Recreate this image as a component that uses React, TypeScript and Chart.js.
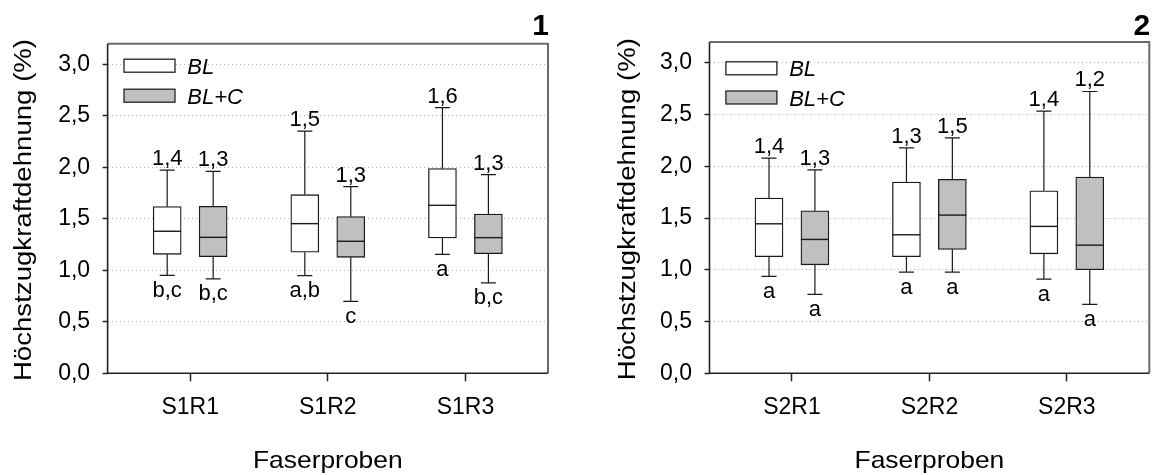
import React, { useEffect, useRef } from 'react';
import { Chart, registerables } from 'chart.js';

Chart.register(...registerables);

const FONT = '"Liberation Sans", Arial, Helvetica, sans-serif';

// ---------- data ----------
const seriesNames = ['BL', 'BL+C'];
const yTitle = 'Höchstzugkraftdehnung (%)';
const xTitle = 'Faserproben';

// Panel 1
const categories1 = ['S1R1', 'S1R2', 'S1R3'];
const bl1Min = [0.951, 0.948, 1.155];
const bl1Q1 = [1.155, 1.175, 1.314];
const bl1Median = [1.379, 1.453, 1.631];
const bl1Q3 = [1.618, 1.734, 1.987];
const bl1Max = [1.973, 2.352, 2.579];
const blc1Min = [0.916, 0.699, 0.877];
const blc1Q1 = [1.132, 1.126, 1.161];
const blc1Median = [1.32, 1.282, 1.317];
const blc1Q3 = [1.621, 1.521, 1.547];
const blc1Max = [1.961, 1.812, 1.928];
const bl1TopLabels = ['1,4', '1,5', '1,6'];
const blc1TopLabels = ['1,3', '1,3', '1,3'];
const bl1BottomLabels = ['b,c', 'a,b', 'a'];
const blc1BottomLabels = ['b,c', 'c', 'b,c'];

// Panel 2
const categories2 = ['S2R1', 'S2R2', 'S2R3'];
const bl2Min = [0.936, 0.978, 0.91];
const bl2Q1 = [1.126, 1.126, 1.154];
const bl2Median = [1.444, 1.338, 1.419];
const bl2Q3 = [1.692, 1.847, 1.763];
const bl2Max = [2.078, 2.178, 2.532];
const blc2Min = [0.762, 0.978, 0.666];
const blc2Q1 = [1.048, 1.197, 1.0];
const blc2Median = [1.293, 1.528, 1.238];
const blc2Q3 = [1.57, 1.873, 1.895];
const blc2Max = [1.965, 2.274, 2.722];
const bl2TopLabels = ['1,4', '1,3', '1,4'];
const blc2TopLabels = ['1,3', '1,5', '1,2'];
const bl2BottomLabels = ['a', 'a', 'a'];
const blc2BottomLabels = ['a', 'a', 'a'];

// ---------- layout / style ----------
const CANVAS_W = 578;
const CANVAS_H = 475;
const GROUP_OFFSET = 0.167; // in category units
const BOX_PX = 28;
const CAP = 7.5;
const FILLS = ['#ffffff', '#c0c0c0'];

type Series = {
  name: string; min: number[]; q1: number[]; median: number[]; q3: number[]; max: number[];
  top: string[]; bottom: string[]; fill: string;
};
type PanelSpec = {
  mark: string;
  categories: string[];
  series: Series[];
  canvasLeft: number;
  area: { left: number; right: number; top: number; bottom: number };
  yTitleX: number;
  legendY: number[];
};

const panels: PanelSpec[] = [
  {
    mark: '1',
    categories: categories1,
    series: [
      { name: seriesNames[0], min: bl1Min, q1: bl1Q1, median: bl1Median, q3: bl1Q3, max: bl1Max, top: bl1TopLabels, bottom: bl1BottomLabels, fill: FILLS[0] },
      { name: seriesNames[1], min: blc1Min, q1: blc1Q1, median: blc1Median, q3: blc1Q3, max: blc1Max, top: blc1TopLabels, bottom: blc1BottomLabels, fill: FILLS[1] },
    ],
    canvasLeft: 0,
    area: { left: 107.6, right: 548, top: 43.7, bottom: 373.3 },
    yTitleX: 31,
    legendY: [65.7, 95.7],
  },
  {
    mark: '2',
    categories: categories2,
    series: [
      { name: seriesNames[0], min: bl2Min, q1: bl2Q1, median: bl2Median, q3: bl2Q3, max: bl2Max, top: bl2TopLabels, bottom: bl2BottomLabels, fill: FILLS[0] },
      { name: seriesNames[1], min: blc2Min, q1: blc2Q1, median: blc2Median, q3: blc2Q3, max: blc2Max, top: blc2TopLabels, bottom: blc2BottomLabels, fill: FILLS[1] },
    ],
    canvasLeft: 578,
    area: { left: 131.5, right: 571.3, top: 42, bottom: 373.3 },
    yTitleX: 57,
    legendY: [68.3, 97.5],
  },
];

function makeDecor(p: PanelSpec) {
  return {
    id: 'decor' + p.mark,
    afterDraw(chart: any) {
      const { ctx, chartArea: a, scales } = chart;
      const y = scales.y;
      ctx.save();

      // frame
      ctx.lineCap = 'butt';
      ctx.strokeStyle = '#6a6a6a';
      ctx.lineWidth = 2;
      ctx.beginPath();
      ctx.moveTo(a.left, a.top);
      ctx.lineTo(a.right, a.top);
      ctx.lineTo(a.right, a.bottom);
      ctx.stroke();
      ctx.strokeStyle = '#222';
      ctx.lineWidth = 1.6;
      ctx.beginPath();
      ctx.moveTo(a.left, a.top);
      ctx.lineTo(a.left, a.bottom);
      ctx.lineTo(a.right, a.bottom);
      ctx.stroke();

      // whiskers, medians, labels
      p.series.forEach((s, di) => {
        const meta = chart.getDatasetMeta(di);
        meta.data.forEach((bar: any, i: number) => {
          const cx = bar.x;
          const hw = bar.width / 2;
          const yMed = y.getPixelForValue(s.median[i]);
          const yQ1 = y.getPixelForValue(s.q1[i]);
          const yQ3 = y.getPixelForValue(s.q3[i]);
          const yMin = y.getPixelForValue(s.min[i]);
          const yMax = y.getPixelForValue(s.max[i]);
          ctx.strokeStyle = '#1a1a1a';
          ctx.lineWidth = 1.2;
          ctx.beginPath();
          ctx.moveTo(cx, yQ3); ctx.lineTo(cx, yMax);
          ctx.moveTo(cx - CAP, yMax); ctx.lineTo(cx + CAP, yMax);
          ctx.moveTo(cx, yQ1); ctx.lineTo(cx, yMin);
          ctx.moveTo(cx - CAP, yMin); ctx.lineTo(cx + CAP, yMin);
          ctx.stroke();
          ctx.lineWidth = 1.4;
          ctx.beginPath();
          ctx.moveTo(cx - hw, yMed); ctx.lineTo(cx + hw, yMed);
          ctx.stroke();
          ctx.fillStyle = '#000';
          ctx.font = `22px ${FONT}`;
          ctx.textAlign = 'center';
          ctx.textBaseline = 'alphabetic';
          ctx.fillText(s.top[i], cx, yMax - 5);
          ctx.fillText(s.bottom[i], cx, yMin + 21.5);
        });
      });

      // legend
      p.series.forEach((s, i) => {
        const cy = p.legendY[i];
        const x0 = a.left + 16.4;
        ctx.fillStyle = s.fill;
        ctx.fillRect(x0, cy - 6.5, 51, 13);
        ctx.strokeStyle = '#222';
        ctx.lineWidth = 1.3;
        ctx.strokeRect(x0, cy - 6.5, 51, 13);
        ctx.fillStyle = '#000';
        ctx.font = `italic 22px ${FONT}`;
        ctx.textAlign = 'left';
        ctx.textBaseline = 'alphabetic';
        ctx.fillText(s.name, a.left + 79.7, cy + 8);
      });

      // panel mark
      ctx.fillStyle = '#000';
      ctx.font = `bold 30px ${FONT}`;
      ctx.textAlign = 'right';
      ctx.textBaseline = 'alphabetic';
      ctx.fillText(p.mark, a.right + 1, 35);

      // y title
      ctx.save();
      ctx.translate(p.yTitleX, (a.top + a.bottom) / 2 + 1.5);
      ctx.rotate(-Math.PI / 2);
      ctx.scale(1.2, 1);
      ctx.font = `23px ${FONT}`;
      ctx.textAlign = 'center';
      ctx.textBaseline = 'alphabetic';
      ctx.fillText(yTitle, 0, 0);
      ctx.restore();

      // x title
      ctx.save();
      ctx.translate((a.left + a.right) / 2, 468.3);
      ctx.scale(1.1, 1);
      ctx.font = `24px ${FONT}`;
      ctx.textAlign = 'center';
      ctx.textBaseline = 'alphabetic';
      ctx.fillText(xTitle, 0, 0);
      ctx.restore();

      ctx.restore();
    },
  };
}

function buildConfig(p: PanelSpec): any {
  const a = p.area;
  return {
    type: 'bar',
    data: {
      datasets: p.series.map((s, si) => ({
        label: s.name,
        data: p.categories.map((_, i) => ({
          x: i + (si === 0 ? -GROUP_OFFSET : GROUP_OFFSET),
          y: [s.q1[i], s.q3[i]],
        })),
        backgroundColor: s.fill,
        borderColor: '#1a1a1a',
        borderWidth: 1.3,
        borderSkipped: false,
        barThickness: BOX_PX,
        grouped: false,
      })),
    },
    options: {
      responsive: false,
      animation: false,
      layout: { padding: { left: 0, right: CANVAS_W - a.right, top: a.top, bottom: 0 } },
      plugins: { legend: { display: false }, tooltip: { enabled: false } },
      scales: {
        x: {
          type: 'linear',
          min: -0.6,
          max: 2.6,
          offset: false,
          ticks: {
            stepSize: 1,
            includeBounds: false,
            autoSkip: false,
            maxRotation: 0,
            callback: (v: number) => p.categories[v] ?? '',
            font: { family: FONT, size: 23 },
            color: '#000',
            padding: 13,
          },
          grid: { offset: false, drawOnChartArea: false, drawTicks: true, tickLength: 8, tickColor: '#222', tickWidth: 1.5 },
          border: { display: false },
          afterFit: (s: any) => { s.height = CANVAS_H - a.bottom; },
        },
        y: {
          type: 'linear',
          min: 0,
          max: 3.2,
          ticks: {
            stepSize: 0.5,
            includeBounds: false,
            callback: (v: number) => v.toFixed(1).replace('.', ','),
            font: { family: FONT, size: 23 },
            color: '#000',
            padding: 12.5,
          },
          grid: { color: '#b0b0b0', lineWidth: 1, drawTicks: true, tickLength: 5, tickColor: '#222', tickWidth: 1.5, tickBorderDash: [] },
          border: { display: false, dash: [1, 3] },
          afterFit: (s: any) => { s.width = a.left; },
        },
      },
    },
    plugins: [makeDecor(p)],
  };
}

function Panel({ spec }: { spec: PanelSpec }) {
  const ref = useRef<HTMLCanvasElement>(null);
  useEffect(() => {
    if (!ref.current) return;
    const chart = new Chart(ref.current, buildConfig(spec));
    return () => chart.destroy();
  }, [spec]);
  return (
    <canvas
      ref={ref}
      width={CANVAS_W}
      height={CANVAS_H}
      style={{ position: 'absolute', left: spec.canvasLeft, top: 0, width: CANVAS_W, height: CANVAS_H }}
    />
  );
}

export default function App() {
  return (
    <div style={{ position: 'absolute', left: 0, top: 0, width: 1156, height: 475, background: '#fff', overflow: 'hidden' }}>
      {panels.map((p) => (
        <Panel key={p.mark} spec={p} />
      ))}
    </div>
  );
}
